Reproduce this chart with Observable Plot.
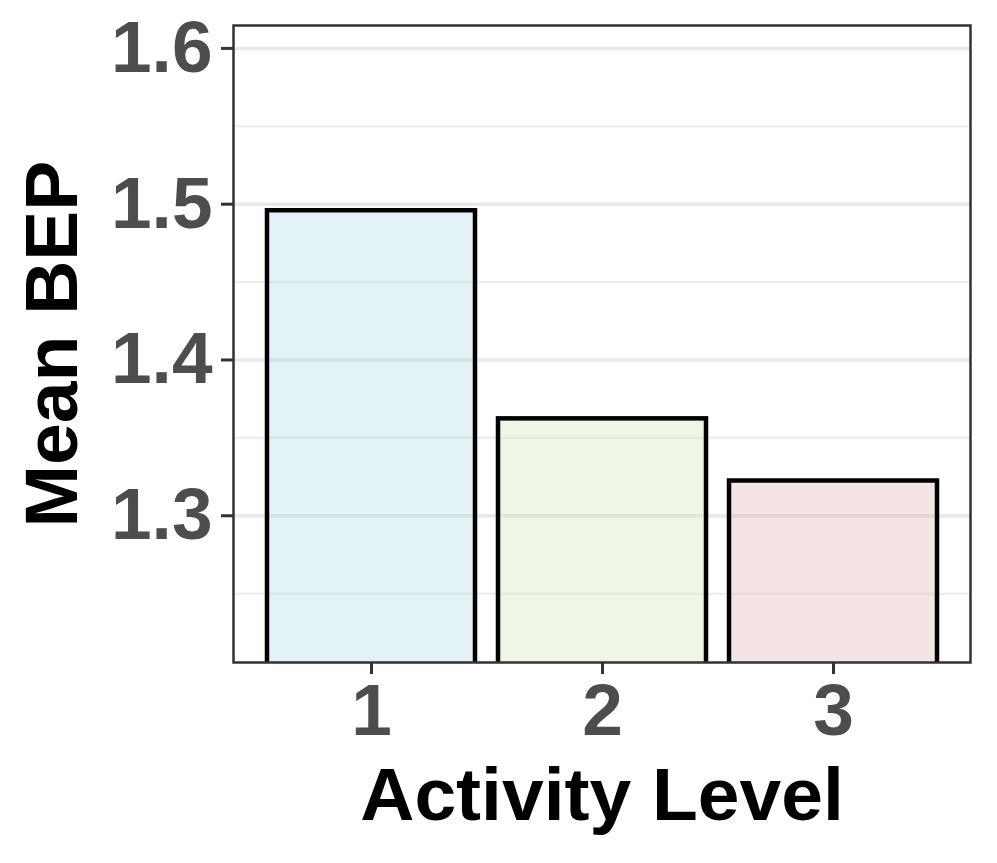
<!DOCTYPE html>
<html>
<head>
<meta charset="utf-8">
<script src="https://cdn.jsdelivr.net/npm/d3@7"></script>
<script src="https://cdn.jsdelivr.net/npm/@observablehq/plot@0.6"></script>
<style>
  html, body { margin: 0; padding: 0; background: #fff; }
  #chart { width: 997px; height: 863px; }
</style>
</head>
<body>
<div id="chart"></div>
<script>
const levels = ["1", "2", "3"];
const meanBEP = [1.4958, 1.3622, 1.3223];
const barColors = ["#afd9e8", "#cde5ba", "#e2b2b2"];
const majorTicks = [1.3, 1.4, 1.5, 1.6];
const minorTicks = [1.25, 1.35, 1.45, 1.55];
const yDomain = [1.2058, 1.6147];
const xTitle = "Activity Level";
const yTitle = "Mean BEP";

const data = levels.map((l, i) => ({level: l, value: meanBEP[i], color: barColors[i]}));
const font = "Liberation Sans, Arial, Helvetica, sans-serif";

const chart = Plot.plot({
  width: 997,
  height: 863,
  marginLeft: 233,
  marginRight: 27,
  marginTop: 25,
  marginBottom: 201,
  style: {fontFamily: font, background: "#fff"},
  x: {type: "band", domain: levels, paddingInner: 0.1, paddingOuter: 0.14},
  y: {domain: yDomain},
  marks: [
    Plot.ruleY(minorTicks, {stroke: "#ebebeb", strokeWidth: 2}),
    Plot.ruleY(majorTicks, {stroke: "#e8e8e8", strokeWidth: 3.5}),
    Plot.rectY(data, {
      x: "level",
      y1: yDomain[0] - 0.02,
      y2: "value",
      fill: d => d.color,
      fillOpacity: 0.35,
      stroke: "#000",
      strokeWidth: 4.5,
      clip: true
    }),
    Plot.frame({stroke: "#333333", strokeWidth: 2.5}),
    Plot.axisY(majorTicks, {
      tickSize: 12, tickPadding: 9, fontSize: 73, fontWeight: "bold",
      fill: "#4d4d4d", stroke: "#333333", strokeWidth: 3, label: null,
      fontFamily: font, tickFormat: d => d.toFixed(1)
    }),
    Plot.axisX(levels, {
      tickSize: 12, tickPadding: 9, fontSize: 73, fontWeight: "bold",
      fill: "#4d4d4d", stroke: "#333333", strokeWidth: 3, label: null,
      fontFamily: font
    }),
    Plot.text([xTitle], {
      frameAnchor: "bottom", dy: 133, text: d => d, fontSize: 75,
      fontWeight: "bold", fill: "#000", lineAnchor: "middle", fontFamily: font
    }),
    Plot.text([yTitle], {
      frameAnchor: "left", dx: -181, rotate: -90, text: d => d, fontSize: 75,
      fontWeight: "bold", fill: "#000", lineAnchor: "middle", textAnchor: "middle", fontFamily: font
    })
  ]
});
document.getElementById("chart").append(chart);
</script>
</body>
</html>
